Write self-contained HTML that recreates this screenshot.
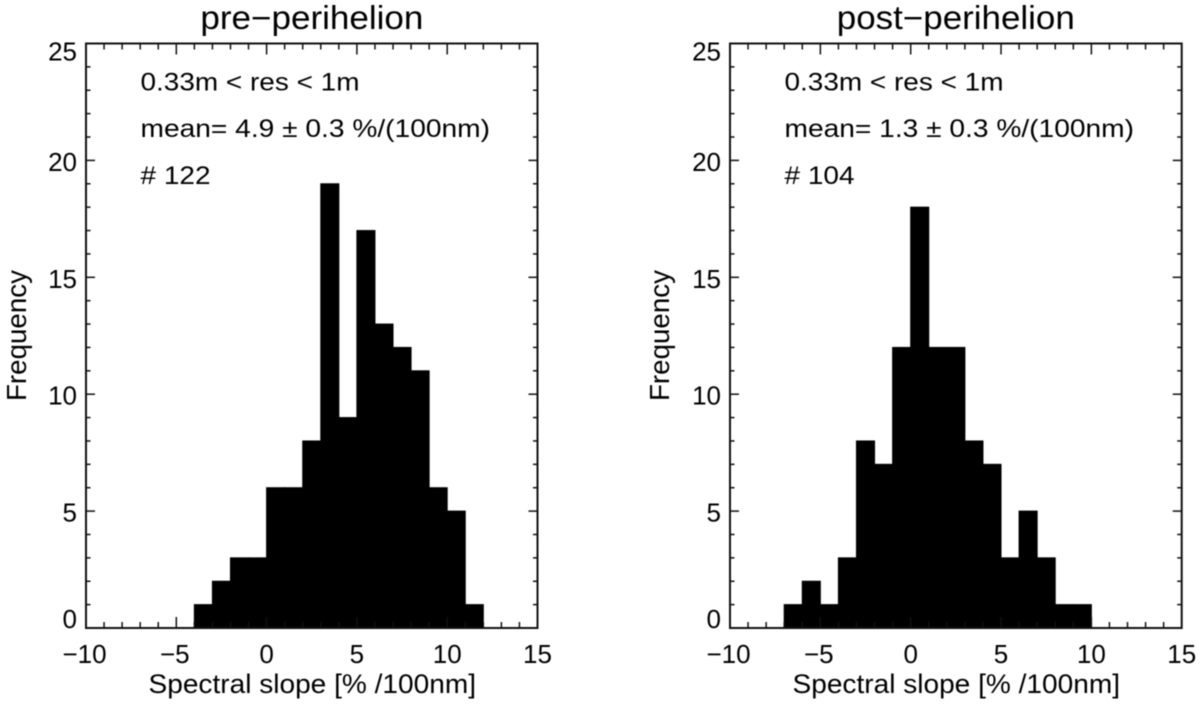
<!DOCTYPE html>
<html lang="en">
<head>
<meta charset="utf-8">
<title>Spectral slope histograms</title>
<style>
html,body{margin:0;padding:0;background:#fff;width:1200px;height:705px;overflow:hidden}
svg{display:block;filter:blur(0.45px)}
text{font-family:"Liberation Sans",Arial,sans-serif;fill:#000}
</style>
</head>
<body>
<svg id="chart" width="1200" height="705" viewBox="0 0 1200 705" xmlns="http://www.w3.org/2000/svg"></svg>
<script>
const binStartPre = [-4,-3,-2,-1,0,1,2,3,4,5,6,7,8,9,10,11];
const countsPre = [1,2,3,3,6,6,8,19,9,17,13,12,11,6,5,1];
const binStartPost = [-7,-6,-5,-4,-3,-2,-1,0,1,2,3,4,5,6,7,8,9];
const countsPost = [1,2,1,3,8,7,12,18,12,12,8,7,3,5,3,1,1];
const xTickValues = [-10,-5,0,5,10,15];
const xTickLabels = ["\u221210","\u22125","0","5","10","15"];
const yTickValues = [0,5,10,15,20,25];
const yTickLabels = ["0","5","10","15","20","25"];
const notesPre = ["0.33m < res < 1m","mean= 4.9 \u00b1 0.3 %/(100nm)","# 122"];
const notesPost = ["0.33m < res < 1m","mean= 1.3 \u00b1 0.3 %/(100nm)","# 104"];
const NS = "http://www.w3.org/2000/svg";
const svg = document.getElementById("chart");

function mk(parent, tag, attrs, txt){
  const e = document.createElementNS(NS, tag);
  for (const k in attrs) e.setAttribute(k, attrs[k]);
  if (txt !== undefined) e.textContent = txt;
  parent.appendChild(e);
  return e;
}

function drawPanel(p){
  const g = mk(svg, "g", {});
  
  
  const xMin = -10, xMax = 15, yMin = 0, yMax = 25;
  const sx = v => p.left + (v - xMin) * (p.right - p.left) / (xMax - xMin);
  const sy = v => p.bottom - (v - yMin) * (p.bottom - p.top) / (yMax - yMin);

  p.bins.forEach((b, i) => {
    const r = mk(g, "rect", {x: sx(b), y: sy(p.counts[i]), width: sx(b + 1) - sx(b), height: sy(0) - sy(p.counts[i]), fill: "#000", stroke: "#000", "stroke-width": 1});
    
    
  });

  for (let v = xMin; v <= xMax; v++) {
    const major = v % 5 === 0;
    if (v === xMin || v === xMax) continue;
    const len = major ? 11 : 6;
    const tb = mk(g, "line", {x1: sx(v), x2: sx(v), y1: sy(0), y2: sy(0) - len, stroke: "#111", "stroke-width": 1.5});
    
    
    const tt = mk(g, "line", {x1: sx(v), x2: sx(v), y1: sy(25), y2: sy(25) + len, stroke: "#111", "stroke-width": 1.5});
    
    
  }
  for (let v = yMin; v <= yMax; v++) {
    const major = v % 5 === 0;
    if (v === yMin || v === yMax) continue;
    const len = major ? 9 : 4.5;
    const tl = mk(g, "line", {x1: p.left, x2: p.left + len, y1: sy(v), y2: sy(v), stroke: "#111", "stroke-width": 1.5});
    
    
    const tr = mk(g, "line", {x1: p.right, x2: p.right - len, y1: sy(v), y2: sy(v), stroke: "#111", "stroke-width": 1.5});
    
    
  }

  const frame = mk(g, "rect", {x: p.left, y: p.top, width: p.right - p.left, height: p.bottom - p.top, fill: "none", stroke: "#111", "stroke-width": 2});
  
  

  xTickValues.forEach((v, i) => {
    const t = mk(g, "text", {x: sx(v) - (v < 0 ? 1.5 : 0), y: 663, "font-size": 26, "text-anchor": "middle"}, xTickLabels[i]);
    
    
  });
  yTickValues.forEach((v, i) => {
    const off = v === yMin ? 0 : (v === yMax ? 17 : 10.5);
    const t = mk(g, "text", {x: p.left - 9, y: sy(v) + off, "font-size": 26, "text-anchor": "end"}, yTickLabels[i]);
    
    
  });

  const title = mk(g, "text", {x: p.titleX, y: 29, "font-size": 33, textLength: p.titleW, lengthAdjust: "spacingAndGlyphs"}, p.title);
  
  

  const xt = mk(g, "text", {x: p.left + 62.5, y: 693, "font-size": 27, textLength: 327.5, lengthAdjust: "spacingAndGlyphs"}, "Spectral slope [% /100nm]");
  
  

  const yt = mk(g, "text", {x: 0, y: 0, "font-size": 27.5, textLength: 131, lengthAdjust: "spacingAndGlyphs", transform: "translate(" + p.yTitleX + ",401) rotate(-90)"}, "Frequency");
  
  

  const n1 = mk(g, "text", {x: p.left + 54.5, y: 90.5, "font-size": 25, textLength: 219, lengthAdjust: "spacingAndGlyphs"}, p.notes[0]);
  
  
  const n2 = mk(g, "text", {x: p.left + 54.5, y: 137, "font-size": 25, textLength: 349.5, lengthAdjust: "spacingAndGlyphs"}, p.notes[1]);
  
  
  const n3 = mk(g, "text", {x: p.left + 54.5, y: 184, "font-size": 25, textLength: 70, lengthAdjust: "spacingAndGlyphs"}, p.notes[2]);
  
  
}

drawPanel({name: "pre-perihelion", title: "pre\u2212perihelion", titleX: 200.4, titleW: 223, left: 86, right: 537.5, top: 43.5, bottom: 628, yTitleX: 26, bins: binStartPre, counts: countsPre, notes: notesPre});
drawPanel({name: "post-perihelion", title: "post\u2212perihelion", titleX: 836.8, titleW: 238, left: 730, right: 1181.7, top: 43.5, bottom: 628, yTitleX: 669, bins: binStartPost, counts: countsPost, notes: notesPost});
</script>
</body>
</html>
